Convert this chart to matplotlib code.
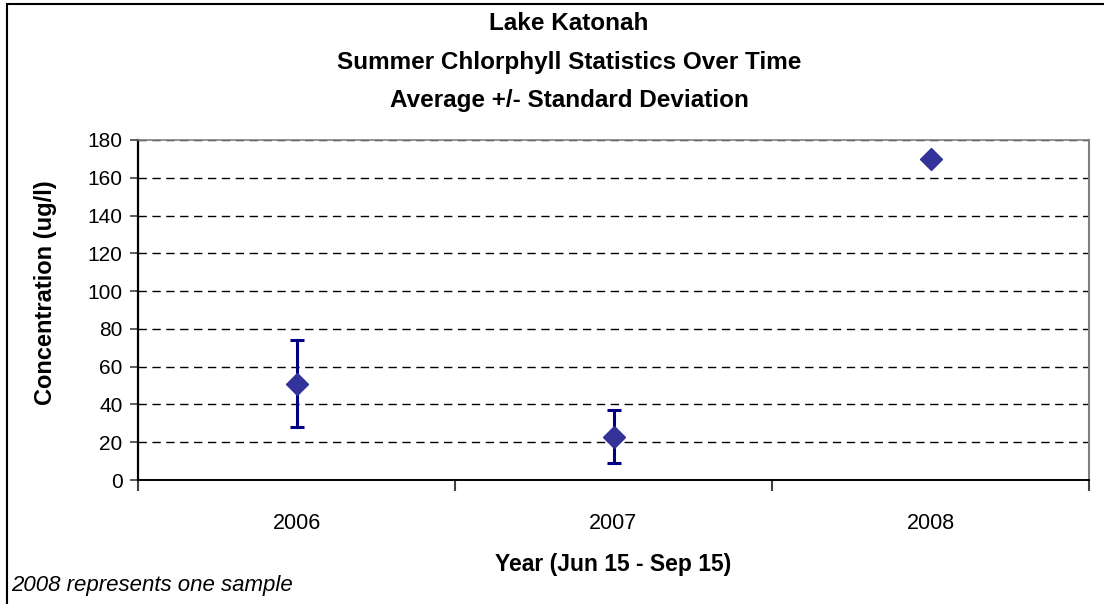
import matplotlib
matplotlib.use("Agg")
import matplotlib.pyplot as plt
from matplotlib.patches import Rectangle

years = ["2006", "2007", "2008"]
means = [51, 23, 170]
stdevs = [23, 14, 0]
yticks = [0, 20, 40, 60, 80, 100, 120, 140, 160, 180]

plt.rcParams['font.family'] = ['Liberation Sans', 'DejaVu Sans']

fig = plt.figure(figsize=(11.04, 6.04), dpi=100)
ax = fig.add_axes([138/1104, 1 - 480/604, (1089-138)/1104, 340/604])

x = list(range(len(years)))
ex = [xi for xi, s in zip(x, stdevs) if s > 0]
ey = [m for m, s in zip(means, stdevs) if s > 0]
es = [s for s in stdevs if s > 0]
ax.errorbar(ex, ey, yerr=es, fmt='none', ecolor='#000080', elinewidth=2.2,
            capsize=4.8, capthick=2.2, zorder=3)
ax.plot(x, means, linestyle='none', marker='D', markersize=11,
        color='#333399', markeredgecolor='#333399', zorder=4)

ax.set_xlim(-0.5, len(years) - 0.5)
ax.set_ylim(0, 180)
ax.set_yticks(yticks)
ax.set_yticklabels([str(t) for t in yticks], fontsize=15)
ax.set_xticks([-0.5, 0.5, 1.5, 2.5])
ax.set_xticklabels([])
ax.set_xticks(x, minor=True)
ax.set_xticklabels(years, minor=True, fontsize=15.5)
ax.tick_params(axis='x', which='major', direction='out', length=8, width=1.5, color='#404040')
ax.tick_params(axis='x', which='minor', length=0, pad=24)
ax.tick_params(axis='y', direction='out', length=6, width=1.2, color='#404040', pad=5)

for t in yticks[1:]:
    ax.axhline(t, color='black', linestyle=(0, (6, 4)), linewidth=1.0, zorder=1)

ax.spines['left'].set_color('black')
ax.spines['left'].set_linewidth(1.6)
ax.spines['bottom'].set_color('black')
ax.spines['bottom'].set_linewidth(1.4)
ax.spines['top'].set_color('#808080')
ax.spines['top'].set_linewidth(1.2)
ax.spines['right'].set_color('#808080')
ax.spines['right'].set_linewidth(1.5)

ax.set_ylabel("Concentration (ug/l)", fontsize=17, fontweight='bold', va='center')
ax.yaxis.set_label_coords((46 - 138) / 951, (480 - 293) / 340)
ax.set_xlabel("Year (Jun 15 - Sep 15)", fontsize=16.5, fontweight='bold', va='center')
ax.xaxis.set_label_coords(0.5, (480 - 564) / 340)

fig.text(569/1104, 1 - 23/604, "Lake Katonah", ha='center', va='center',
         fontsize=17.5, fontweight='bold')
fig.text(569/1104, 1 - 63/604, "Summer Chlorphyll Statistics Over Time", ha='center',
         va='center', fontsize=17.5, fontweight='bold')
fig.text(569/1104, 1 - 101/604, "Average +/- Standard Deviation", ha='center',
         va='center', fontsize=17.5, fontweight='bold')
fig.text(11/1104, 1 - 585/604, "2008 represents one sample", ha='left', va='center',
         fontsize=16, style='italic')

fig.patches.append(Rectangle((7/1104, -0.05), 1.2, 1 - 4/604 + 0.05,
                             transform=fig.transFigure, fill=False,
                             edgecolor='black', linewidth=1.5))

fig.savefig("out.png", dpi=100)
